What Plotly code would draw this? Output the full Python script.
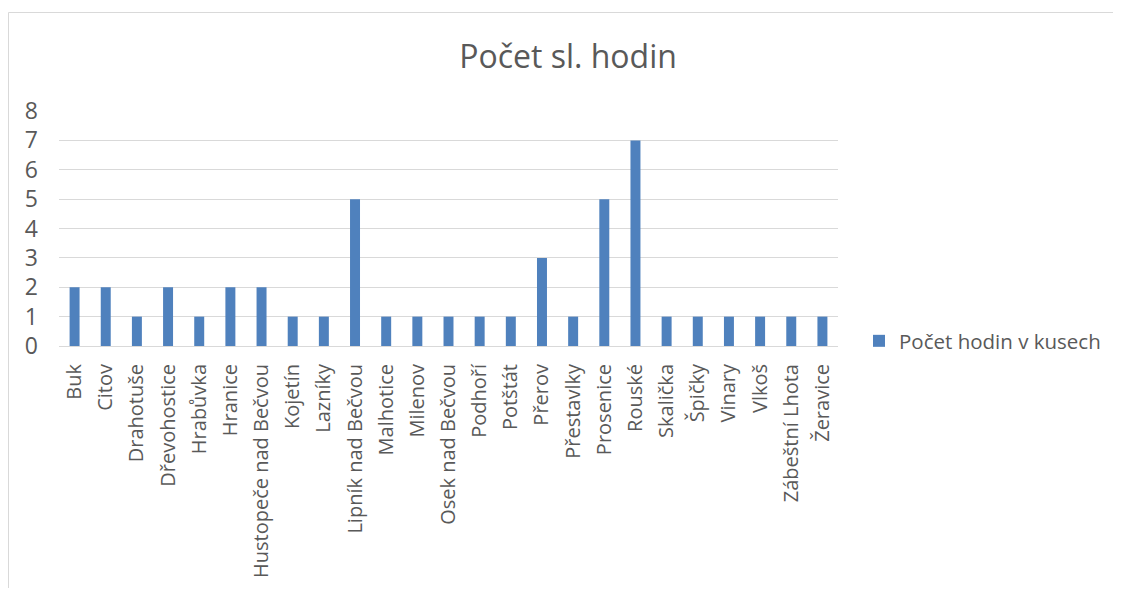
import plotly.graph_objects as go

categories = ["Buk", "Citov", "Drahotuše", "Dřevohostice", "Hrabůvka", "Hranice",
              "Hustopeče nad Bečvou", "Kojetín", "Lazníky", "Lipník nad Bečvou",
              "Malhotice", "Milenov", "Osek nad Bečvou", "Podhoří", "Potštát",
              "Přerov", "Přestavlky", "Prosenice", "Rouské", "Skalička", "Špičky",
              "Vinary", "Vlkoš", "Zábeštní Lhota", "Žeravice"]
values = [2, 2, 1, 2, 1, 2, 2, 1, 1, 5, 1, 1, 1, 1, 1, 3, 1, 5, 7, 1, 1, 1, 1, 1, 1]
series_name = "Počet hodin v kusech"
title_text = "Počet sl. hodin"

OFF = 8  # page body margin
W, H = 1121 - 2 * OFF, 596 - 2 * OFF
# plot area in reference pixel coords
PX0, PX1, PY0, PY1 = 59, 838, 111, 346
L, T = PX0 - OFF, PY0 - OFF
R = W - (PX1 - OFF)
B = H - (PY1 - OFF)
pw, ph = PX1 - PX0, PY1 - PY0

fig = go.Figure()
fig.add_trace(go.Bar(x=categories, y=values, name=series_name,
                     marker=dict(color="#4F81BD", line=dict(width=0)),
                     width=0.32, showlegend=True))

fig.update_layout(
    width=W, height=H,
    margin=dict(l=L, r=R, t=T, b=B, autoexpand=False),
    paper_bgcolor="white", plot_bgcolor="white",
    font=dict(family="Open Sans, sans-serif", color="#595959"),
    title=dict(text=title_text, x=(568 - OFF) / W, xanchor="center",
               y=1 - (57 - OFF) / H, yanchor="middle",
               font=dict(size=32, color="#595959", family="Open Sans, sans-serif")),
    showlegend=True,
    legend=dict(x=(859 - PX0) / pw, y=(PY1 - 341) / ph, xanchor="left", yanchor="middle",
                font=dict(size=20.5, color="#595959"), itemwidth=30,
                bgcolor="rgba(0,0,0,0)"),
)
fig.update_yaxes(range=[0, 8], dtick=1, tick0=0, showgrid=True, gridcolor="#D9D9D9",
                 gridwidth=1, zeroline=False, showline=False, ticks="", automargin=False,
                 tickfont=dict(size=23, color="#595959"), ticklabelstandoff=20)
fig.update_xaxes(showline=True, linecolor="#D9D9D9", linewidth=1, ticks="", automargin=False,
                 tickangle=-90, tickfont=dict(size=20, color="#595959"),
                 showgrid=False, ticklabelstandoff=9)

fig.add_shape(type="rect", xref="paper", yref="paper",
              x0=(8.5 - PX0) / pw, x1=(1117 - PX0) / pw,
              y0=(PY1 - 620) / ph, y1=(PY1 - 12.5) / ph,
              line=dict(color="#D9D9D9", width=1), fillcolor="rgba(0,0,0,0)", layer="below")

fig.write_html("out.html")
